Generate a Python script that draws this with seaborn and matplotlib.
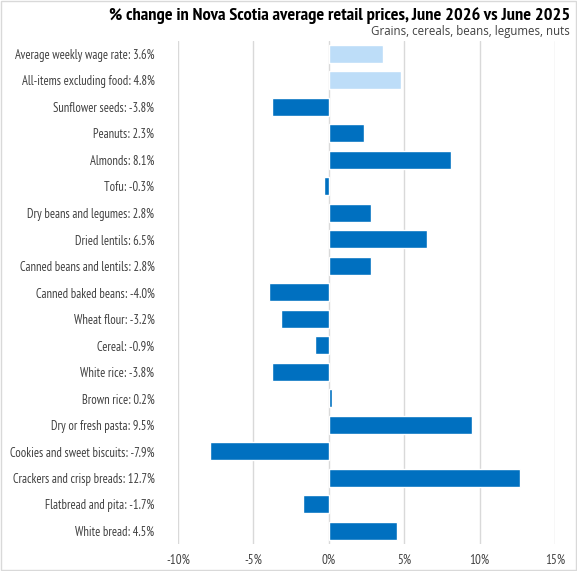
import matplotlib as mpl
import matplotlib.pyplot as plt
import pandas as pd
import seaborn as sns
from matplotlib.patches import Rectangle
from matplotlib.ticker import FuncFormatter

items = [
    "Average weekly wage rate", "All-items excluding food", "Sunflower seeds",
    "Peanuts", "Almonds", "Tofu", "Dry beans and legumes", "Dried lentils",
    "Canned beans and lentils", "Canned baked beans", "Wheat flour", "Cereal",
    "White rice", "Brown rice", "Dry or fresh pasta", "Cookies and sweet biscuits",
    "Crackers and crisp breads", "Flatbread and pita", "White bread",
]
pct_change = [3.6, 4.8, -3.8, 2.3, 8.1, -0.3, 2.8, 6.5, 2.8, -4.0, -3.2, -0.9,
              -3.8, 0.2, 9.5, -7.9, 12.7, -1.7, 4.5]
group = ["benchmark", "benchmark"] + ["food"] * 17

sns.set_theme(style="white")
mpl.rcParams["font.family"] = ["PT Sans Narrow", "Roboto Condensed", "DejaVu Sans"]

df = pd.DataFrame({
    "label": [f"{n}: {v:.1f}%" for n, v in zip(items, pct_change)],
    "value": pct_change,
    "group": group,
})

fig = plt.figure(figsize=(5.77, 5.71), dpi=100)
ax = fig.add_axes([0.3085, 0.047, 0.6535, 0.882])

sns.barplot(
    data=df, x="value", y="label", hue="group", orient="h",
    palette={"benchmark": "#BDDDF8", "food": "#0070C0"},
    width=0.68, dodge=False, legend=False, ax=ax, saturation=1,
)

ax.set_xlim(-10, 15)
ax.set_xticks([-10, -5, 0, 5, 10, 15])
ax.xaxis.set_major_formatter(FuncFormatter(lambda v, _: f"{v:.0f}%"))
ax.grid(axis="x", color="#D9D9D9", linewidth=1)
ax.set_axisbelow(True)
for s in ax.spines.values():
    s.set_visible(False)
ax.set_xlabel("")
ax.set_ylabel("")
ax.tick_params(axis="y", length=0, pad=17, labelsize=9, labelcolor="#404040")
ax.tick_params(axis="x", length=0, pad=7, labelsize=9.4, labelcolor="#404040")

fig.text(0.988, 0.972, "% change in Nova Scotia average retail prices, June 2026 vs June 2025",
         ha="right", va="center", fontsize=13.2, fontweight="bold", color="black")
fig.text(0.988, 0.945, "Grains, cereals, beans, legumes, nuts",
         ha="right", va="center", fontsize=8.3, color="#404040", family="Open Sans")

fig.patches.append(Rectangle((0.001, 0.001), 0.997, 0.997, transform=fig.transFigure,
                             fill=False, edgecolor="#D9D9D9", linewidth=1))

fig.savefig("out.png", dpi=100)
